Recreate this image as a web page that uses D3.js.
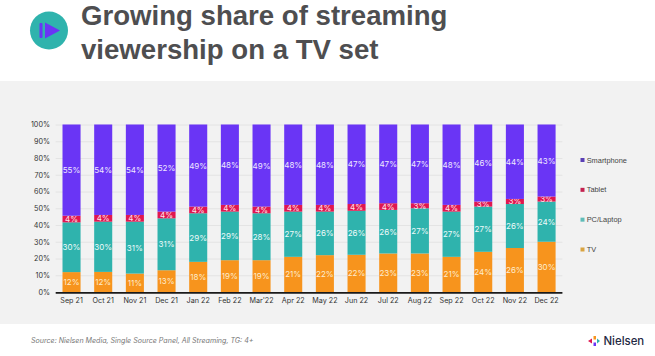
<!doctype html>
<html lang="en">
<head>
<meta charset="UTF-8">
<title>Growing share of streaming viewership on a TV set</title>
<style>
html, body { margin: 0; padding: 0; background: #fff; }
svg { display: block; }
text { font-family: Inter, "Liberation Sans", sans-serif; }
.title { font-family: "Liberation Sans", sans-serif; font-weight: 700; font-size: 27.6px; fill: #4e4e50; }
.axis text { font-size: 7.2px; fill: #333; }
.axis .domain { display: none; }
.grid line { stroke: #e0e0e0; stroke-width: 0.8; }
.grid .domain { display: none; }
.value { font-size: 8px; text-anchor: middle; dominant-baseline: central; }
.legend text { font-family: "Liberation Sans", sans-serif; font-size: 7.4px; fill: #444; dominant-baseline: central; }
</style>
</head>
<body>
<svg width="655" height="356"></svg>
<script src="https://cdn.jsdelivr.net/npm/d3@7"></script>
<script>
var months = ['Sep 21', 'Oct 21', 'Nov 21', 'Dec 21', 'Jan 22', 'Feb 22', "Mar'22", 'Apr 22', 'May 22', 'Jun 22', 'Jul 22', 'Aug 22', 'Sep 22', 'Oct 22', 'Nov 22', 'Dec 22'];
var tv = [12, 12, 11, 13, 18, 19, 19, 21, 22, 22, 23, 23, 21, 24, 26, 30];
var pc = [30, 30, 31, 31, 29, 29, 28, 27, 26, 26, 26, 27, 27, 27, 26, 24];
var tablet = [4, 4, 4, 4, 4, 4, 4, 4, 4, 4, 4, 3, 4, 3, 3, 3];
var smartphone = [55, 54, 54, 52, 49, 48, 49, 48, 48, 47, 47, 47, 48, 46, 44, 43];
var seriesNames = ['TV', 'PC/Laptop', 'Tablet', 'Smartphone'];
var seriesColors = ['#f7941d', '#2fb3ad', '#e0164f', '#6a35f5'];
var legendColors = ['#d9a441', '#5fbcb8', '#c4214f', '#5a3fb5'];
var labelColors = ['#fdeccf', '#eefafa', '#fde6ed', '#efe8ff'];
var yTicks = [0, 0.1, 0.2, 0.3, 0.4, 0.5, 0.6, 0.7, 0.8, 0.9, 1];

var svg = d3.select('svg');

// grey panel behind the chart
svg.append('rect').attr('x', 0).attr('y', 81).attr('width', 655).attr('height', 243).attr('fill', '#f2f2f2');

// title
svg.append('text').attr('class', 'title').attr('x', 81).attr('y', 25).text('Growing share of streaming');
svg.append('text').attr('class', 'title').attr('x', 81).attr('y', 59).text('viewership on a TV set');

// play icon
var icon = svg.append('g').attr('transform', 'translate(49,30.5)');
icon.append('circle').attr('r', 19).attr('fill', '#2fb3ad');
icon.append('rect').attr('x', -9.5).attr('y', -7.5).attr('width', 3).attr('height', 15).attr('rx', 1).attr('fill', '#6a35f5');
icon.append('path').attr('d', 'M-4,-8 L11,0 L-4,8 Z').attr('fill', '#6a35f5');

var x = d3.scaleBand().domain(months).range([55.7, 562.4]).paddingInner(0.43).paddingOuter(0.215);
var y = d3.scaleLinear().domain([0, 1]).range([292, 124.5]);

svg.append('g')
    .attr('class', 'grid')
    .attr('transform', 'translate(55.7,0)')
    .call(d3.axisRight(y).tickValues(yTicks).tickSize(506.7).tickFormat(''));

svg.append('g')
    .attr('class', 'axis')
    .attr('transform', 'translate(50,0)')
    .call(d3.axisLeft(y).tickValues(yTicks).tickSize(0).tickFormat(d3.format('.0%')))
    .selectAll('text').attr('x', 0);

var table = months.map(function(m, i) {
    return { month: m, 'TV': tv[i], 'PC/Laptop': pc[i], 'Tablet': tablet[i], 'Smartphone': smartphone[i] };
});
var stacked = d3.stack().keys(seriesNames).offset(d3.stackOffsetExpand)(table);

var layers = svg.selectAll('.layer')
    .data(stacked)
    .enter().append('g')
    .attr('class', 'layer');

layers.each(function(s, k) {
    d3.select(this).selectAll('rect')
        .data(s)
        .enter().append('rect')
        .attr('x', function(d) { return x(d.data.month); })
        .attr('y', function(d) { return y(d[1]); })
        .attr('width', x.bandwidth())
        .attr('height', function(d) { return y(d[0]) - y(d[1]); })
        .attr('fill', seriesColors[k]);
});

layers.each(function(s, k) {
    d3.select(this).selectAll('text')
        .data(s)
        .enter().append('text')
        .attr('class', 'value')
        .attr('x', function(d) { return x(d.data.month) + x.bandwidth() / 2; })
        .attr('y', function(d) { return y((d[0] + d[1]) / 2); })
        .attr('fill', labelColors[k])
        .text(function(d) { return d.data[s.key] + '%'; });
});

// baseline + month labels
svg.append('g')
    .attr('class', 'axis')
    .attr('transform', 'translate(0,292)')
    .call(d3.axisBottom(x).tickSize(0).tickPadding(6));
svg.append('line')
    .attr('x1', x.range()[0]).attr('x2', x.range()[1])
    .attr('y1', y(0) + 0.8).attr('y2', y(0) + 0.8)
    .attr('stroke', '#1a1a1a').attr('stroke-width', 1.8);

// legend
var legendY = d3.scalePoint().domain(seriesNames.slice().reverse()).range([160, 249.5]);
var legend = svg.selectAll('.legend')
    .data(seriesNames)
    .enter().append('g')
    .attr('class', 'legend')
    .attr('transform', function(d) { return 'translate(580.5,' + legendY(d) + ')'; });
legend.append('rect')
    .attr('x', 0).attr('y', -2).attr('width', 4).attr('height', 4)
    .attr('fill', function(d, i) { return legendColors[i]; });
legend.append('text').attr('x', 6.2).attr('y', 0).text(function(d) { return d; });

// source
svg.append('text')
    .attr('x', 31).attr('y', 343)
    .attr('font-size', 7.1).attr('font-style', 'italic').attr('fill', '#777')
    .text('Source: Nielsen Media, Single Source Panel, All Streaming, TG: 4+');

// nielsen logo
var logo = svg.append('g').attr('transform', 'translate(596,341)');
logo.append('path').attr('d', 'M-8,0 L-4,-2.5 L-4,2.5 Z').attr('fill', '#e0164f');
logo.append('path').attr('d', 'M-2.5,-5 L0,-5 L0,-1.5 L-2.5,-1.5 Z').attr('fill', '#f7941d');
logo.append('path').attr('d', 'M-2.5,1.5 L0,1.5 L0,5 L-2.5,5 Z').attr('fill', '#6a35f5');
logo.append('path').attr('d', 'M1,-2.5 L4,0 L1,2.5 Z').attr('fill', '#2fb3ad');
logo.append('text')
    .attr('x', 7.5).attr('y', 4.2)
    .attr('font-size', 11.4).attr('font-weight', 500).attr('fill', '#1f2a44')
    .text('Nielsen');
</script>
</body>
</html>
